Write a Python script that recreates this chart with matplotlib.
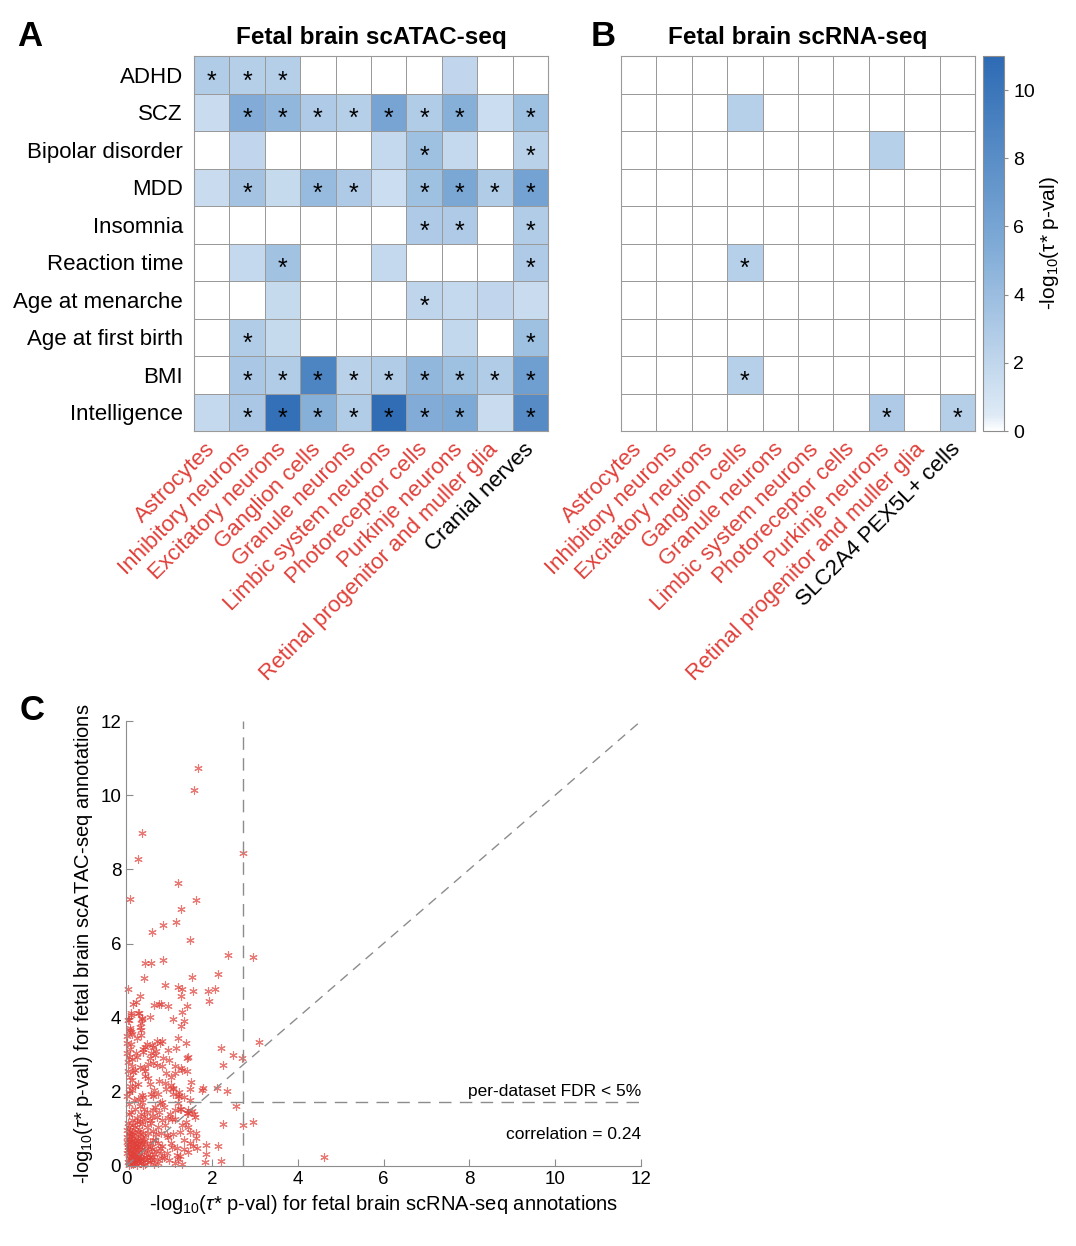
import numpy as np
import matplotlib
matplotlib.use('Agg')
import matplotlib.pyplot as plt
import matplotlib.transforms as mtransforms
from matplotlib.colors import LinearSegmentedColormap

plt.rcParams['font.family'] = ['Liberation Sans', 'DejaVu Sans']
plt.rcParams['mathtext.fontset'] = 'custom'
plt.rcParams['mathtext.rm'] = 'Liberation Sans'
plt.rcParams['mathtext.it'] = 'Liberation Sans:italic'

traits = ['ADHD', 'SCZ', 'Bipolar disorder', 'MDD', 'Insomnia', 'Reaction time',
          'Age at menarche', 'Age at first birth', 'BMI', 'Intelligence']
cells_atac = ['Astrocytes', 'Inhibitory neurons', 'Excitatory neurons', 'Ganglion cells',
              'Granule neurons', 'Limbic system neurons', 'Photoreceptor cells',
              'Purkinje neurons', 'Retinal progenitor and muller glia', 'Cranial nerves']
cells_rna = ['Astrocytes', 'Inhibitory neurons', 'Excitatory neurons', 'Ganglion cells',
             'Granule neurons', 'Limbic system neurons', 'Photoreceptor cells',
             'Purkinje neurons', 'Retinal progenitor and muller glia', 'SLC2A4 PEX5L+ cells']
shared_cells = 9  # first 9 labels are shared (red)

# -log10(tau* p) values, rows = traits
atac_vals = [
    [2.8, 2.6, 2.6, 0, 0, 0, 0, 2.0, 0, 0],
    [1.6, 5.3, 4.5, 3.0, 2.6, 6.0, 2.8, 5.0, 1.5, 3.8],
    [0, 2.0, 0, 0, 0, 1.8, 3.8, 1.8, 0, 2.4],
    [1.6, 3.5, 1.7, 4.2, 3.0, 1.5, 3.8, 5.8, 2.8, 6.2],
    [0, 0, 0, 0, 0, 0, 3.0, 3.0, 0, 2.8],
    [0, 1.8, 3.6, 0, 0, 1.8, 0, 0, 0, 3.0],
    [0, 0, 1.7, 0, 0, 0, 2.1, 1.8, 2.0, 1.6],
    [0, 2.8, 1.7, 0, 0, 0, 0, 1.9, 0, 3.8],
    [0, 3.2, 2.8, 8.8, 2.4, 2.8, 4.5, 3.8, 2.8, 6.5],
    [1.8, 3.2, 10.5, 5.0, 2.8, 10.8, 5.3, 5.6, 1.6, 8.2],
]
atac_sig = [
    [1, 1, 1, 0, 0, 0, 0, 0, 0, 0],
    [0, 1, 1, 1, 1, 1, 1, 1, 0, 1],
    [0, 0, 0, 0, 0, 0, 1, 0, 0, 1],
    [0, 1, 0, 1, 1, 0, 1, 1, 1, 1],
    [0, 0, 0, 0, 0, 0, 1, 1, 0, 1],
    [0, 0, 1, 0, 0, 0, 0, 0, 0, 1],
    [0, 0, 0, 0, 0, 0, 1, 0, 0, 0],
    [0, 1, 0, 0, 0, 0, 0, 0, 0, 1],
    [0, 1, 1, 1, 1, 1, 1, 1, 1, 1],
    [0, 1, 1, 1, 1, 1, 1, 1, 0, 1],
]
rna_vals = [
    [0, 0, 0, 0, 0, 0, 0, 0, 0, 0],
    [0, 0, 0, 2.5, 0, 0, 0, 0, 0, 0],
    [0, 0, 0, 0, 0, 0, 0, 2.5, 0, 0],
    [0, 0, 0, 0, 0, 0, 0, 0, 0, 0],
    [0, 0, 0, 0, 0, 0, 0, 0, 0, 0],
    [0, 0, 0, 2.5, 0, 0, 0, 0, 0, 0],
    [0, 0, 0, 0, 0, 0, 0, 0, 0, 0],
    [0, 0, 0, 0, 0, 0, 0, 0, 0, 0],
    [0, 0, 0, 2.5, 0, 0, 0, 0, 0, 0],
    [0, 0, 0, 0, 0, 0, 0, 3.0, 0, 2.6],
]
rna_sig = [
    [0] * 10, [0] * 10, [0] * 10, [0] * 10, [0] * 10,
    [0, 0, 0, 1, 0, 0, 0, 0, 0, 0],
    [0] * 10, [0] * 10,
    [0, 0, 0, 1, 0, 0, 0, 0, 0, 0],
    [0, 0, 0, 0, 0, 0, 0, 1, 0, 1],
]

# scatter: (scRNA-seq, scATAC-seq) -log10 p
scatter_pts = [
    (1.68, 10.72), (1.58, 10.15), (0.38, 8.99), (0.29, 8.27), (2.73, 8.43), (1.21, 7.63),
    (0.09, 7.20), (1.62, 7.18), (1.29, 6.93), (1.16, 6.59), (0.87, 6.49), (0.60, 6.30),
    (1.49, 6.09), (2.37, 5.70), (2.97, 5.63), (0.45, 5.47), (0.58, 5.47), (0.86, 5.55),
    (0.42, 5.07), (1.53, 5.10), (2.14, 5.19), (0.04, 4.77), (0.91, 4.88), (1.20, 4.82),
    (1.30, 4.76), (1.57, 4.73), (1.90, 4.73), (2.07, 4.78), (1.29, 4.58), (0.33, 4.58),
    (1.94, 4.46), (0.17, 4.38), (0.23, 4.41), (0.65, 4.34), (0.77, 4.37), (0.82, 4.36),
    (0.97, 4.31), (1.41, 4.31), (0.12, 4.12), (0.30, 4.12), (0.12, 4.06), (0.56, 4.02),
    (0.38, 3.96), (1.31, 4.16), (1.09, 3.96), (1.35, 3.92), (0.05, 3.94), (1.28, 3.78),
    (0.09, 3.72), (0.33, 3.76), (2.22, 3.17), (2.50, 2.99), (2.70, 2.92), (2.26, 2.72),
    (3.11, 3.34), (1.52, 2.26), (1.50, 2.08), (1.76, 2.04), (1.80, 2.10), (2.11, 2.10),
    (2.36, 2.03), (1.24, 1.89), (1.48, 1.77), (2.56, 1.63), (1.27, 1.53), (1.53, 1.47),
    (1.44, 1.43), (1.59, 1.41), (2.27, 1.13), (2.73, 1.11), (2.97, 1.19), (4.62, 0.25),
    (1.64, 0.88), (1.63, 0.75), (1.86, 0.56), (2.15, 0.55), (1.66, 0.49), (1.86, 0.32),
    (1.84, 0.12), (2.21, 0.13), (1.31, 0.05), (1.21, 3.44), (1.39, 3.31), (0.72, 3.36),
    (0.80, 3.31), (0.83, 3.37), (0.60, 3.26), (0.99, 3.13), (1.17, 3.17), (1.45, 2.95),
    (1.43, 2.90), (0.40, 3.15), (0.39, 3.07), (0.56, 2.92), (0.87, 2.90), (0.68, 2.99),
    (0.09, 3.15), (0.23, 3.04), (0.02, 3.04), (1.29, 2.63), (1.31, 2.58), (1.14, 2.50),
    (1.41, 2.56), (0.93, 2.51), (0.91, 2.24), (1.05, 2.18), (1.10, 2.10), (1.22, 1.90),
    (0.58, 1.95), (0.63, 1.88), (0.37, 1.91), (0.40, 1.87), (0.13, 2.05), (0.08, 2.00),
    (0.79, 1.69), (0.85, 1.72), (0.44, 2.42), (0.52, 2.37), (0.13, 2.32), (0.16, 2.54),
    (0.33, 2.68), (0.43, 2.63), (0.64, 2.77), (0.72, 2.72), (0.14, 2.69), (0.02, 3.31),
    (0.11, 3.28), (0.09, 3.67), (0.12, 3.62), (0.34, 3.85), (0.34, 3.67), (0.34, 3.53),
    (0.37, 3.98), (0.29, 4.12), (0.64, 3.22), (0.44, 3.20), (1.24, 2.00), (1.09, 2.07),
    (0.93, 2.07), (1.61, 1.33), (1.45, 1.51), (1.41, 1.42), (1.26, 1.53), (1.14, 1.51),
    (1.03, 1.40), (0.99, 1.29), (1.07, 1.26), (1.14, 1.28), (0.72, 1.33), (0.83, 1.24),
    (0.64, 1.51), (0.55, 1.24), (1.30, 1.11), (1.44, 1.06), (1.26, 0.93), (1.49, 0.93),
    (0.95, 0.84), (0.99, 0.79), (0.81, 0.88), (0.68, 0.70), (0.75, 0.61), (1.35, 0.70),
    (1.49, 0.61), (1.07, 0.52), (1.18, 0.48), (1.45, 0.39), (1.18, 0.30), (1.26, 0.27),
    (0.81, 0.34), (0.83, 0.21), (0.75, 0.07), (1.14, 0.07), (0.55, 0.23), (0.59, 0.16),
    (0.12, 0.05), (0.18, 0.10), (0.25, 0.03), (0.30, 0.15), (0.08, 0.22), (0.15, 0.30),
    (0.22, 0.25), (0.35, 0.08), (0.40, 0.20), (0.45, 0.05), (0.12, 0.40), (0.20, 0.45),
    (0.28, 0.38), (0.35, 0.33), (0.42, 0.42), (0.50, 0.30), (0.55, 0.12), (0.10, 0.55),
    (0.18, 0.62), (0.26, 0.58), (0.33, 0.52), (0.40, 0.65), (0.48, 0.55), (0.60, 0.45),
    (0.08, 0.72), (0.15, 0.80), (0.24, 0.75), (0.32, 0.85), (0.45, 0.78), (0.52, 0.90),
    (0.62, 0.70), (0.70, 0.40), (0.72, 0.18), (0.65, 0.05), (0.05, 0.10), (0.03, 0.35),
    (0.14, 0.15), (0.27, 0.12), (0.38, 0.45), (0.19, 0.20), (0.10, 0.95), (0.20, 1.05),
    (0.30, 1.00), (0.38, 1.12), (0.48, 1.05), (0.58, 1.15), (0.15, 1.25), (0.25, 1.30),
    (0.35, 1.40), (0.45, 1.25), (0.12, 1.45), (0.22, 1.55), (0.32, 1.62), (0.42, 1.55),
    (0.50, 1.45), (0.60, 1.35), (0.08, 1.68), (0.18, 1.78), (0.28, 1.82), (0.38, 1.72),
    (0.20, 2.15), (0.28, 2.22), (0.10, 2.40), (0.22, 2.60), (0.05, 2.80), (0.15, 2.88),
    (0.25, 2.95), (0.45, 2.55), (0.55, 2.20), (0.65, 2.05), (0.75, 1.95), (0.68, 1.60),
    (0.78, 1.45), (0.88, 1.60), (0.92, 1.10), (0.85, 0.55), (0.95, 0.35), (1.05, 0.62),
    (1.00, 0.15), (0.88, 0.25), (0.62, 0.95), (0.75, 1.05), (0.55, 0.62), (0.25, 3.45),
    (0.15, 3.55), (0.48, 3.30), (0.58, 3.05), (0.52, 2.75), (0.78, 2.30), (0.85, 2.70),
    (1.00, 2.85), (1.15, 2.70), (1.05, 2.40), (0.70, 3.10), (1.20, 1.70), (1.35, 1.85),
    (1.10, 1.95), (1.40, 1.20), (1.35, 0.45), (1.55, 0.55), (1.10, 0.85), (1.20, 0.20),
    (0.40, 0.02), (0.60, 0.25), (0.05, 0.50), (0.07, 0.85), (0.11, 0.68), (0.04, 1.15),
    (0.06, 1.40), (0.03, 1.90), (0.09, 2.15), (0.04, 2.55), (0.07, 2.95), (0.03, 3.50),
    (0.06, 3.95), (0.02, 0.65), (0.16, 0.05), (0.33, 0.22), (0.23, 0.50), (0.14, 0.92),
    (0.06, 0.04), (0.10, 0.18), (0.17, 0.24), (0.21, 0.08), (0.26, 0.20), (0.31, 0.28),
    (0.07, 0.30), (0.13, 0.34), (0.19, 0.36), (0.24, 0.33), (0.29, 0.45), (0.36, 0.18),
    (0.04, 0.42), (0.09, 0.47), (0.16, 0.52), (0.21, 0.56), (0.30, 0.62), (0.37, 0.58),
    (0.05, 0.60), (0.12, 0.64), (0.20, 0.70), (0.28, 0.70), (0.35, 0.75), (0.43, 0.68),
    (0.03, 0.78), (0.11, 0.82), (0.19, 0.88), (0.27, 0.92), (0.40, 0.90), (0.48, 0.15),
    (0.02, 0.98), (0.08, 1.05), (0.16, 1.10), (0.25, 1.18), (0.33, 1.22), (0.42, 1.35),
    (0.52, 0.40), (0.46, 0.25), (0.58, 0.52), (0.66, 0.32), (0.79, 0.48), (0.70, 0.85),
]
fdr_x = 2.72
fdr_y = 1.72
correlation = 0.24

red = '#e0403a'
cmap = LinearSegmentedColormap.from_list(
    'blu', [(0, '#ffffff'), (0.04, '#deeaf6'), (0.5, '#7eaad6'), (1, '#2d6bb4')])

W, H = 1076, 1246
fig = plt.figure(figsize=(W / 100, H / 100), dpi=100)
axA = fig.add_axes([194 / W, 1 - 431 / H, 354 / W, 375 / H])
axB = fig.add_axes([621 / W, 1 - 431 / H, 354 / W, 375 / H])
cax = fig.add_axes([983 / W, 1 - 431 / H, 21 / W, 375 / H])
axC = fig.add_axes([126 / W, 1 - 1166 / H, 515 / W, 445 / H])


def draw_heat(ax, vals, sig, cols, title, show_rows):
    m = ax.pcolormesh(np.array(vals), cmap=cmap, vmin=0, vmax=11,
                      edgecolors='#9a9a9a', linewidth=0.6)
    ax.set_xlim(0, 10)
    ax.set_ylim(10, 0)
    for i in range(10):
        for j in range(10):
            if sig[i][j]:
                ax.text(j + 0.5, i + 0.68, '*', ha='center', va='center', fontsize=18)
    ax.set_yticks(np.arange(10) + 0.5)
    if show_rows:
        ax.set_yticklabels(traits, fontsize=16)
    else:
        ax.set_yticklabels([])
    ax.set_xticks(np.arange(10) + 0.5)
    ax.set_xticklabels(cols, fontsize=16, rotation=45, ha='right',
                       va='center', rotation_mode='anchor')
    offset = mtransforms.ScaledTranslation(5 / 72, 0, fig.dpi_scale_trans)
    for k, lab in enumerate(ax.get_xticklabels()):
        lab.set_color(red if k < shared_cells else 'black')
        lab.set_transform(lab.get_transform() + offset)
    ax.tick_params(length=0, pad=8)
    ax.tick_params(axis='x', pad=11)
    for s in ax.spines.values():
        s.set_color('#9a9a9a')
        s.set_linewidth(0.8)
    ax.set_title(title, fontsize=17.5, fontweight='bold', pad=9)
    return m


m = draw_heat(axA, atac_vals, atac_sig, cells_atac, 'Fetal brain scATAC-seq', True)
draw_heat(axB, rna_vals, rna_sig, cells_rna, 'Fetal brain scRNA-seq', False)

cb = fig.colorbar(m, cax=cax, ticks=range(0, 11, 2))
cb.outline.set_edgecolor('#8c8c8c')
cax.tick_params(labelsize=14, length=3, color='#8c8c8c')
cax.set_ylabel('-log$_{10}$(τ* p-val)', fontsize=15, labelpad=2)

# scatter panel
pts = np.array(scatter_pts)
axC.plot(pts[:, 0], pts[:, 1], linestyle='none', marker=(6, 2, 0), markersize=6,
         markeredgewidth=0.8, color=red, alpha=0.7, clip_on=False)
axC.plot([0, 12], [0, 12], color='#8c8c8c', lw=1, dashes=(7, 5))
axC.plot([fdr_x, fdr_x], [0, 12], color='#8c8c8c', lw=1, dashes=(9, 6))
axC.plot([0, 12], [fdr_y, fdr_y], color='#8c8c8c', lw=1, dashes=(9, 6))
axC.text(12, fdr_y + 0.1, 'per-dataset FDR < 5%', ha='right', va='bottom', fontsize=12.5)
axC.text(12, 0.86, 'correlation = %.2f' % correlation, ha='right', va='center', fontsize=12.5)
axC.set_xlim(0, 12)
axC.set_ylim(0, 12)
axC.set_xticks(range(0, 13, 2))
axC.set_yticks(range(0, 13, 2))
axC.tick_params(direction='in', length=5, labelsize=13.5, color='#8c8c8c')
for s in ['top', 'right']:
    axC.spines[s].set_visible(False)
for s in ['left', 'bottom']:
    axC.spines[s].set_color('#8c8c8c')
axC.set_xlabel(r'-log$_{10}$($\tau$* p-val) for fetal brain scRNA-seq annotations',
               fontsize=14.5, labelpad=4)
axC.set_ylabel(r'-log$_{10}$($\tau$* p-val) for fetal brain scATAC-seq annotations',
               fontsize=14.5, labelpad=4)

fig.text(30 / W, 1 - 37 / H, 'A', fontsize=25, fontweight='bold', ha='center', va='center')
fig.text(603 / W, 1 - 37 / H, 'B', fontsize=25, fontweight='bold', ha='center', va='center')
fig.text(32 / W, 1 - 710 / H, 'C', fontsize=25, fontweight='bold', ha='center', va='center')

fig.savefig('out.png', dpi=100)
